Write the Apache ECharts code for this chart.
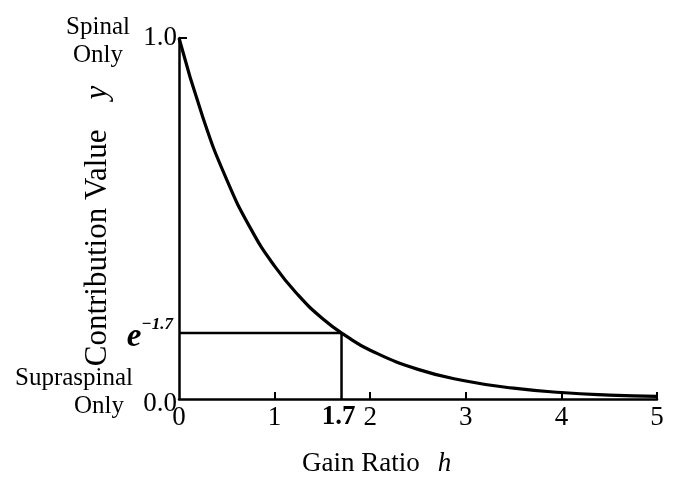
<!DOCTYPE html>
<html>
<head>
<meta charset="utf-8">
<script src="https://cdn.jsdelivr.net/npm/echarts@6/dist/echarts.min.js"></script>
<style>
  html, body { margin: 0; padding: 0; background: #fff; }
  #main { width: 675px; height: 477px; }
</style>
</head>
<body>
<div id="main"></div>
<script>
// values
var gainRatio = [0, 0.25, 0.5, 0.75, 1, 1.25, 1.5, 1.75, 2, 2.5, 3, 3.5, 4, 4.5, 5];
var contribution = [1.0, 0.78, 0.607, 0.472, 0.368, 0.287, 0.223, 0.174, 0.135, 0.082, 0.050, 0.030, 0.018, 0.011, 0.007];
var markH = 1.7;
var markY = 0.183;
var xTickLabels = [0, 1, 1.7, 2, 3, 4, 5];
var xTicks = [1, 2, 3, 4, 5];
var yTickLabels = [0, markY, 1];

var serif = '"Liberation Serif", "DejaVu Serif", serif';

var curve = gainRatio.map(function (h, i) { return [h, contribution[i]]; });
var guide = [[0, markY], [markH, markY], [markH, 0]];

var chart = echarts.init(document.getElementById('main'));
chart.setOption({
  backgroundColor: '#fff',
  animation: false,
  grid: { left: 179, right: 18, top: 38, bottom: 78 },
  xAxis: {
    type: 'value',
    min: 0, max: 5, interval: 1,
    splitLine: { show: false },
    axisLine: { lineStyle: { color: '#000', width: 2.5 } },
    axisTick: { inside: true, length: 7, customValues: xTicks, lineStyle: { color: '#000', width: 2 } },
    axisLabel: {
      customValues: xTickLabels,
      color: '#000', fontFamily: serif, fontSize: 27, margin: 5,
      formatter: function (v) {
        if (Math.abs(v - markH) < 1e-6) return '{b|1.7}';
        return String(v);
      },
      rich: { b: { fontWeight: 'bold', fontFamily: serif, fontSize: 27, color: '#000', padding: [0, 6, 0, 0] } }
    }
  },
  yAxis: {
    type: 'value',
    min: 0, max: 1,
    splitLine: { show: false },
    axisLine: { lineStyle: { color: '#000', width: 2.5 } },
    axisTick: { inside: true, length: 8, customValues: [1], lineStyle: { color: '#000', width: 2 } },
    axisLabel: {
      customValues: yTickLabels,
      color: '#000', fontFamily: serif, fontSize: 27, margin: 2,
      formatter: function (v) {
        if (Math.abs(v - markY) < 1e-6) return '{e|e}{s|\u22121.7}';
        if (v === 0) return '{z|0.0}';
        return v.toFixed(1);
      },
      rich: {
        z: { fontFamily: serif, fontSize: 27, color: '#000', padding: [10, 0, 0, 0] },
        e: { fontFamily: serif, fontSize: 33, fontWeight: 'bold', fontStyle: 'italic', color: '#000', padding: [10, 0, 0, 0] },
        s: { fontFamily: serif, fontSize: 17, fontWeight: 'bold', fontStyle: 'italic', color: '#000', padding: [0, 4, 16, 0] }
      }
    }
  },
  graphic: [
    { type: 'text', x: 98, y: 13, style: { text: 'Spinal\nOnly', font: '25px ' + serif, fill: '#000', align: 'center', verticalAlign: 'top', lineHeight: 28 } },
    { type: 'text', x: 15, y: 366, style: { text: 'Supraspinal', font: '25px ' + serif, fill: '#000', verticalAlign: 'top' } },
    { type: 'text', x: 99, y: 394, style: { text: 'Only', font: '25px ' + serif, fill: '#000', align: 'center', verticalAlign: 'top' } },
    {
      type: 'text', x: 302, y: 464,
      style: {
        text: '{t|Gain Ratio}{i|h}', verticalAlign: 'middle',
        rich: {
          t: { font: '27px ' + serif, fill: '#000', padding: [0, 18, 0, 0] },
          i: { font: 'italic 27px ' + serif, fill: '#000' }
        }
      }
    },
    {
      type: 'text', x: 98, y: 226, rotation: Math.PI / 2,
      style: {
        text: '{t|Contribution Value}{i|y}', align: 'center', verticalAlign: 'middle',
        rich: {
          t: { font: '31px ' + serif, fill: '#000', padding: [0, 30, 0, 0] },
          i: { font: 'italic 31px ' + serif, fill: '#000' }
        }
      }
    }
  ],
  series: [
    {
      type: 'line',
      data: curve,
      smooth: true,
      symbol: 'none',
      lineStyle: { color: '#000', width: 3.2 }
    },
    {
      type: 'line',
      data: guide,
      symbol: 'none',
      lineStyle: { color: '#000', width: 2.5 }
    }
  ]
});
</script>
</body>
</html>
